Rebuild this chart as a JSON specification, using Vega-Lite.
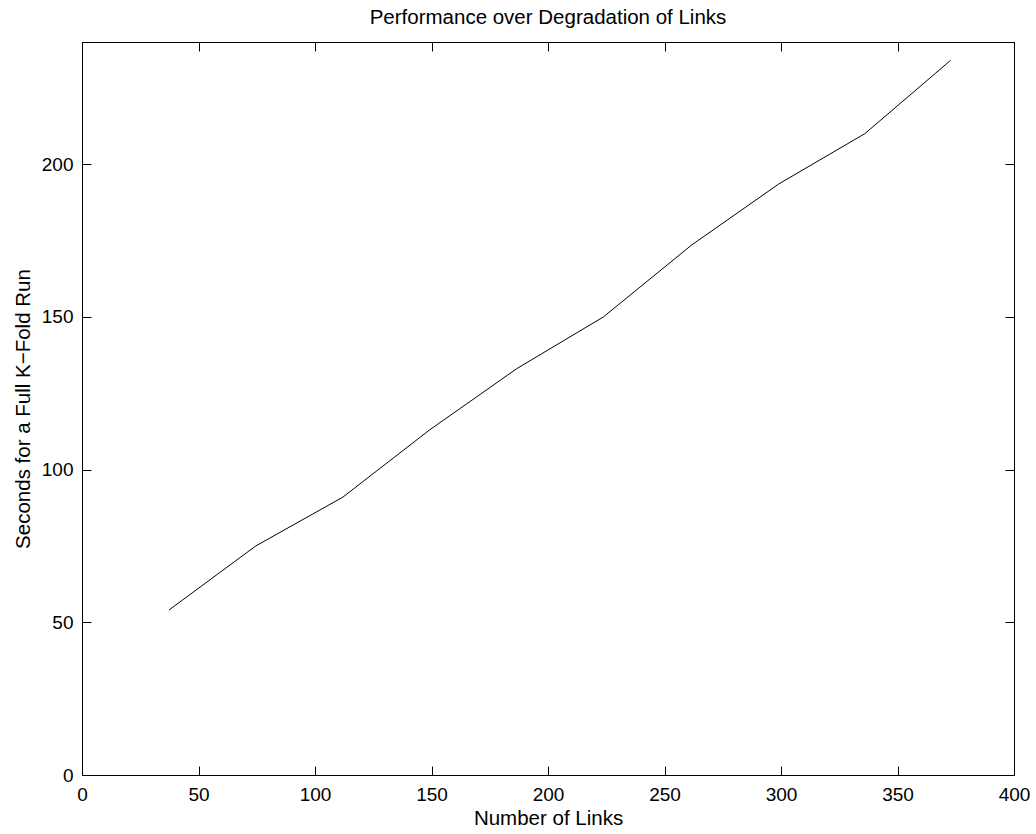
{
  "$schema": "https://vega.github.io/schema/vega-lite/v6.json",
  "autosize": "none",
  "width": 932,
  "height": 733,
  "padding": {"left": 82, "top": 42, "right": 22, "bottom": 59},
  "background": "white",
  "config": {
    "font": "Liberation Sans",
    "view": {"stroke": "black", "strokeWidth": 1},
    "axis": {
      "grid": false,
      "domainColor": "black",
      "tickColor": "black",
      "labelColor": "black",
      "titleColor": "black",
      "labelFont": "Liberation Sans",
      "titleFont": "Liberation Sans",
      "labelFontSize": 19,
      "titleFontSize": 20.5,
      "titleFontWeight": "normal",
      "tickSize": -9,
      "labelPadding": 18,
      "labelFlush": false,
      "labelOverlap": false
    },
    "title": {"font": "Liberation Sans", "fontSize": 20.5, "fontWeight": "normal", "color": "black"}
  },
  "title": {"text": "Performance over Degradation of Links", "offset": 13},
  "data": {
    "values": [
      {"links": 37.3, "seconds": 54},
      {"links": 74.6, "seconds": 75},
      {"links": 112, "seconds": 91},
      {"links": 149.2, "seconds": 113},
      {"links": 186.5, "seconds": 133},
      {"links": 223.8, "seconds": 150},
      {"links": 261.6, "seconds": 173.5},
      {"links": 299, "seconds": 193.5},
      {"links": 336, "seconds": 210},
      {"links": 372.8, "seconds": 234}
    ]
  },
  "layer": [
    {
      "mark": {"type": "line", "color": "black", "strokeWidth": 1},
      "encoding": {
        "x": {"field": "links", "type": "quantitative", "scale": {"domain": [0, 400], "nice": false, "zero": false},
              "axis": {"orient": "bottom", "values": [0,50,100,150,200,250,300,350,400], "title": "Number of Links", "titlePadding": 4, "labelPadding": 19}},
        "y": {"field": "seconds", "type": "quantitative", "scale": {"domain": [0, 240], "nice": false, "zero": false},
              "axis": {"orient": "left", "values": [0,50,100,150,200], "title": "Seconds for a Full K\u2212Fold Run", "titlePadding": 8}}
      }
    },
    {
      "mark": {"type": "line", "strokeOpacity": 0},
      "encoding": {
        "x": {"field": "links", "type": "quantitative",
              "axis": {"orient": "top", "values": [0,50,100,150,200,250,300,350,400], "labels": false, "title": null}},
        "y": {"field": "seconds", "type": "quantitative",
              "axis": {"orient": "right", "values": [0,50,100,150,200], "labels": false, "title": null}}
      }
    }
  ],
  "resolve": {"axis": {"x": "independent", "y": "independent"}}
}
